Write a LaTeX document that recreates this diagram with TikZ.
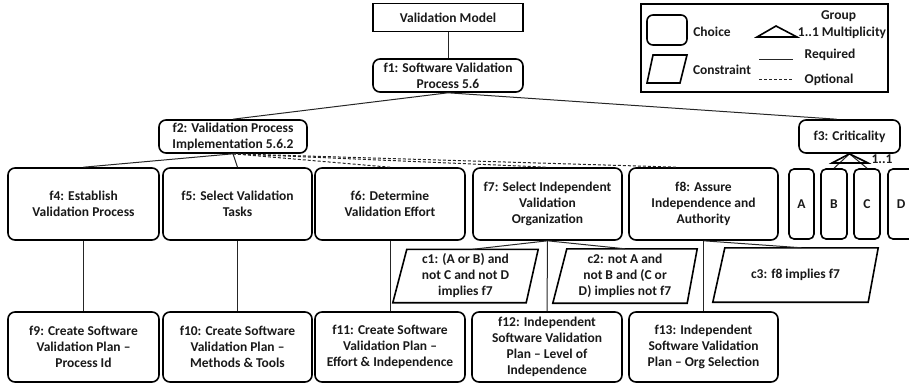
\documentclass[tikz,border=0pt]{standalone}
\usepackage{fontspec}
\setmainfont{Carlito}
\usetikzlibrary{calc}
\tikzset{
  txt/.style={font=\fontsize{13.5}{16}\selectfont\bfseries, align=center, inner sep=0pt, text=black!90},
  fbox/.style={txt, draw=black, rounded corners=7pt, line width=1.6pt},
  sbox/.style={txt, draw=black, line width=1.6pt},
  cpoly/.style={line width=1.6pt, line join=miter},
  req/.style={draw=black!85, line width=1pt},
  opt/.style={draw=black!85, line width=1pt, dash pattern=on 3pt off 2pt},
}
\begin{document}
\begin{tikzpicture}[x=1pt,y=-1pt]
\useasboundingbox (0,0) rectangle (909,385);
\clip (0,0) rectangle (909,385);
% top
\node[sbox, minimum width=150pt, minimum height=28pt] (vm) at (448,17.5) {Validation Model};
\node[fbox, minimum width=150pt, minimum height=33pt] (f1) at (448,75.5) {f1: Software Validation\\Process 5.6};
\node[fbox, minimum width=148pt, minimum height=33pt] (f2) at (233,136.5) {f2: Validation Process\\Implementation 5.6.2};
\node[fbox, minimum width=101pt, minimum height=33pt] (f3) at (849.5,136.5) {f3: Criticality};
% legend
\node[draw, line width=1.6pt, minimum width=247pt, minimum height=88pt, inner sep=0pt] (leg) at (764.5,48) {};
\node[draw, rounded corners=6pt, line width=1.6pt, minimum width=40pt, minimum height=30pt, inner sep=0pt] (lchoice) at (667,30) {};
\node[txt] (lchoicet) at (712,32) {Choice};
\coordinate (lc) at (667,69);
\draw[cpoly] ($(lc)+(-20,14)$) -- ($(lc)+(13,14)$) -- ($(lc)+(20,-14)$) -- ($(lc)+(-14,-14)$) -- cycle;
\node[txt] (lconst) at (722,70) {Constraint};
\node[txt] (lgroup) at (838.5,16) {Group};
\node[txt] (lmult) at (842,33) {1..1 Multiplicity};
\draw[line width=1.6pt, line join=miter] (757,37) -- (776,26) -- (797,37) -- cycle;
\node[txt] (lreq) at (830,55) {Required};
\node[txt] (lopt) at (829,80) {Optional};
\coordinate (lr1) at (759,60); \coordinate (lr2) at (793,60);
\coordinate (lo1) at (759,80); \coordinate (lo2) at (793,80);
\draw[req] (lr1) -- (lr2);
\draw[opt] (lo1) -- (lo2);
% middle row
\node[fbox, minimum width=151pt, minimum height=72pt] (f4) at (83.5,204) {f4: Establish\\Validation Process};
\node[fbox, minimum width=149pt, minimum height=72pt] (f5) at (237.5,204) {f5: Select Validation\\Tasks};
\node[fbox, minimum width=150pt, minimum height=72pt] (f6) at (390,204) {f6: Determine\\Validation Effort};
\node[fbox, minimum width=149pt, minimum height=72pt] (f7) at (547.5,204) {f7: Select Independent\\Validation\\Organization};
\node[fbox, minimum width=149pt, minimum height=72pt] (f8) at (703.5,204) {f8: Assure\\Independence and\\Authority};
\node[fbox, rounded corners=5pt, minimum width=25pt, minimum height=70pt] (A) at (801.5,204) {A};
\node[fbox, rounded corners=5pt, minimum width=26pt, minimum height=70pt] (B) at (834,204) {B};
\node[fbox, rounded corners=5pt, minimum width=26pt, minimum height=70pt] (C) at (867,204) {C};
\node[fbox, rounded corners=5pt, minimum width=26pt, minimum height=70pt] (D) at (901,204) {D};
% bottom row
\node[fbox, minimum width=151pt, minimum height=70pt] (f9) at (83.5,347) {f9: Create Software\\Validation Plan –\\Process Id};
\node[fbox, minimum width=149pt, minimum height=70pt] (f10) at (237.5,347) {f10: Create Software\\Validation Plan –\\Methods \& Tools};
\node[fbox, minimum width=150pt, minimum height=70pt] (f11) at (390,347) {f11: Create Software\\Validation Plan –\\Effort \& Independence};
\node[fbox, minimum width=150pt, minimum height=70pt] (f12) at (547,347) {f12: Independent\\Software Validation\\Plan – Level of\\Independence};
\node[fbox, minimum width=149pt, minimum height=70pt] (f13) at (703.5,347) {f13: Independent\\Software Validation\\Plan – Org Selection};
% constraints
\node[txt, minimum width=145pt, minimum height=53pt] (c1) at (465.5,276) {c1: (A or B) and\\not C and not D\\implies f7};
\node[txt, minimum width=144pt, minimum height=54pt] (c2) at (625,276) {c2: not A and\\not B and (C or\\D) implies not f7};
\node[txt, minimum width=165pt, minimum height=54pt] (c3) at (795.5,275) {c3: f8 implies f7};
\draw[cpoly] (c1.south west) -- ($(c1.south east)+(-12,0)$) -- (c1.north east) -- ($(c1.north west)+(14,0)$) -- cycle;
\draw[cpoly] (c2.south west) -- ($(c2.south east)+(-10,0)$) -- (c2.north east) -- ($(c2.north west)+(14,0)$) -- cycle;
\draw[cpoly] (c3.south west) -- ($(c3.south east)+(-10,0)$) -- (c3.north east) -- ($(c3.north west)+(12,0)$) -- cycle;
% connectors
\draw[req] (vm) -- (f1);
\draw[req] (f1.south) -- (f2.north);
\draw[req] (f1.south) -- ($(f3.north)+(-13,0)$);
\draw[req] (f2.south) -- (f4.north);
\draw[req] (f2.south) -- (f5.north);
\draw[opt] (f2.south) -- (f6.north);
\draw[opt] (f2.south) -- (f7.north);
\draw[opt] (f2.south) -- ($(f8.north)+(-26,0)$);
\draw[req] (f4) -- (f9);
\draw[req] (f5) -- (f10);
\draw[req] (f6) -- (f11);
\draw[req] (f7) -- (f12);
\draw[req] (f8) -- (f13);
\draw[req] (f7.south) -- ($(c1.north)+(7,0)$);
\draw[req] (f7.south) -- ($(c2.north)+(0,0)$);
\draw[req] (f8.south) -- ($(c3.north)+(6,0)$);
% group
\draw[req] (f3.south) -- (B.north);
\draw[req] (f3.south) -- (C.north);
\draw[line width=1.6pt, line join=miter] (f3.south) -- (832,163) -- (868,163) -- cycle;
\node[txt] (mult) at (882,159) {1..1};
\end{tikzpicture}
\end{document}
